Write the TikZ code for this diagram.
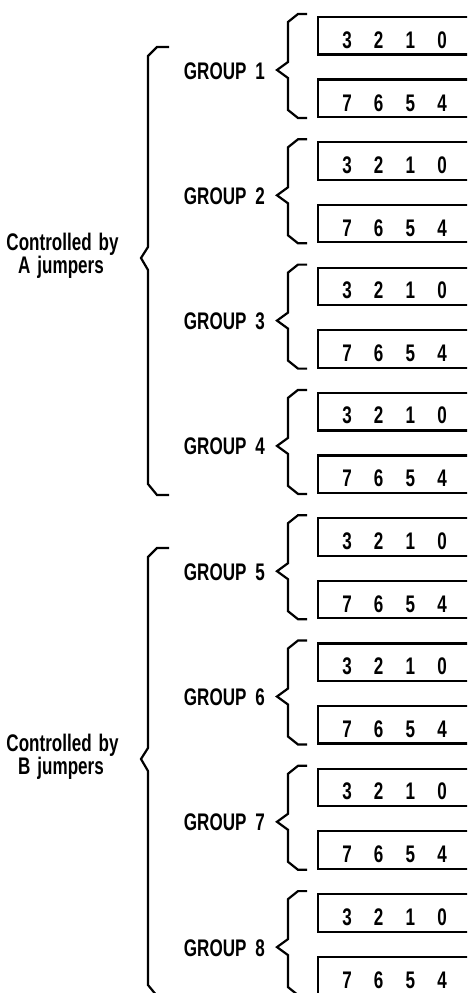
\documentclass[tikz,border=0pt]{standalone}
\usepackage{fontspec}
\newfontfamily\narrowsans[FakeStretch=0.71]{Liberation Sans}
\begin{document}
\begin{tikzpicture}[x=1pt,y=-1pt,
  line width=2.2pt, line join=miter,
  lbl/.style={font=\narrowsans\bfseries\fontsize{24}{24}\selectfont, inner sep=0pt},
  bitbox/.style={draw, line width=2.2pt, minimum width=200pt, minimum height=37.5pt,
                 anchor=north west, inner sep=0pt, outer sep=0pt},
]
% page area; the bit registers run on past the right edge
\clip (0,0) rectangle (467,993);

% eight groups, each with a low and a high nibble register
\foreach \g in {1,...,8} {
  \pgfmathsetmacro\yo{14+125.3*(\g-1)}
  % registers
  \node[bitbox] (lo\g) at (318,{\yo+3}) {};
  \node[bitbox] (hi\g) at (318,{\yo+65.5}) {};
  % bit numbers
  \foreach \b/\k in {3/0,2/1,1/2,0/3}
    \node[lbl, anchor=base] (lo\g-\b) at ({347+31.7*\k},{\yo+34}) {\b};
  \foreach \b/\k in {7/0,6/1,5/2,4/3}
    \node[lbl, anchor=base] (hi\g-\b) at ({347+31.7*\k},{\yo+97}) {\b};
  % small brace joining the two registers
  \coordinate (tip\g) at (277,{\yo+56});
  \draw (307,\yo) -- (298,\yo) -- (288,{\yo+8}) -- (288,{\yo+48})
        -- (tip\g) -- (288,{\yo+64}) -- (288,{\yo+96})
        -- (298,{\yo+104}) -- (307,{\yo+104});
  % group label
  \node[lbl, anchor=base east] (grp\g) at (266,{\yo+65}) {GROUP\hspace{9pt}\g};
}

% large braces for the two jumper banks
\foreach \bank/\off in {A/0,B/501} {
  \coordinate (bigtip\bank) at (141,{258+\off});
  \draw (169,{47+\off}) -- (157,{47+\off}) -- (148,{56+\off}) -- (148,{247+\off})
        -- (bigtip\bank) -- (148,{270+\off}) -- (148,{484+\off})
        -- (157,{495+\off}) -- (169,{495+\off});
  \node[lbl, anchor=base] (ctl\bank) at (62.5,{250+\off}) {Controlled\hspace{7pt}by};
  \node[lbl, anchor=base] (jmp\bank) at (61,{273+\off}) {\bank\hspace{7pt}jumpers};
}
\end{tikzpicture}
\end{document}
